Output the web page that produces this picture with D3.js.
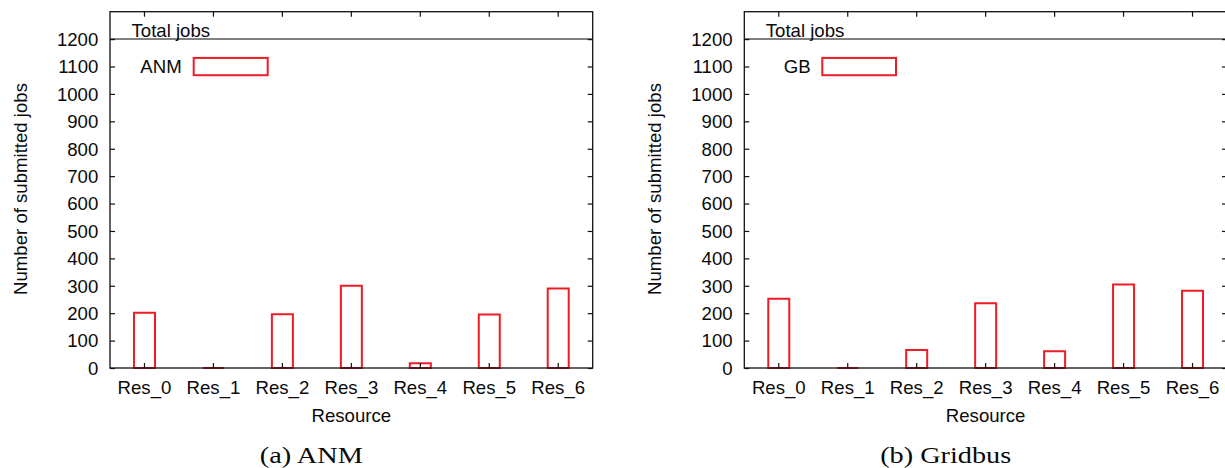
<!DOCTYPE html>
<html>
<head>
<meta charset="utf-8">
<script src="https://cdn.jsdelivr.net/npm/d3@7"></script>
<style>
  html, body { margin: 0; padding: 0; background: #fff; }
  svg { display: block; }
  text { font-family: "Liberation Sans", Arial, Helvetica, sans-serif; fill: #0a0a0a; }
  .caption { font-family: "Liberation Serif", "Times New Roman", serif; }
</style>
</head>
<body>
<svg id="chart" width="1225" height="468"></svg>
<script>
// ---- Data ----
const categories = ["Res_0", "Res_1", "Res_2", "Res_3", "Res_4", "Res_5", "Res_6"];
const anmValues = [202, 0, 196, 300, 17, 195, 290];
const gbValues = [253, 0, 66, 236, 61, 305, 282];
const yTickValues = [0, 100, 200, 300, 400, 500, 600, 700, 800, 900, 1000, 1100, 1200];
const totalJobsLevel = 1200;
const yMax = 1300;

const panels = [
  { values: anmValues, key: "ANM", caption: "(a) ANM", left: 110, keyTextEnd: 71.7, keyBox: [83.7, 157.7], capLen: 103 },
  { values: gbValues, key: "GB", caption: "(b) Gridbus", left: 744.3, keyTextEnd: 66.4, keyBox: [78, 151.7], capLen: 131 }
];

const svg = d3.select("#chart");
const PW = 482.7, PTOP = 11.7, PBOT = 368;
const red = "#ee1c25";
const FS = 18.6;

panels.forEach(p => {
  const g = svg.append("g").attr("transform", `translate(${p.left},0)`);
  const x = d3.scaleBand().domain(categories).range([0, PW]).paddingInner(0).paddingOuter(0);
  const y = d3.scaleLinear().domain([0, yMax]).range([PBOT, PTOP]);
  const bw = 21;

  // total jobs line
  g.append("line")
    .attr("x1", 0).attr("x2", PW)
    .attr("y1", y(totalJobsLevel)).attr("y2", y(totalJobsLevel))
    .attr("stroke", "#808080").attr("stroke-width", 2);

  // bars (as paths so zero-height bars still show)
  g.append("g").selectAll("path")
    .data(p.values.map((v, i) => ({ c: categories[i], v })))
    .join("path")
    .attr("d", d => {
      const cx = x(d.c) + x.bandwidth() / 2;
      const x0 = cx - bw / 2, x1 = cx + bw / 2;
      return `M${x0},${y(0)}V${y(d.v)}H${x1}V${y(0)}Z`;
    })
    .attr("fill", "none").attr("stroke", red).attr("stroke-width", 2);

  // axes
  const bottomAxis = g.append("g").attr("transform", `translate(0,${PBOT})`)
    .call(d3.axisBottom(x).tickSize(-5).tickPadding(13).tickSizeOuter(0));
  const topAxis = g.append("g").attr("transform", `translate(0,${PTOP})`)
    .call(d3.axisTop(x).tickSize(-5).tickFormat("").tickSizeOuter(0));
  const leftAxis = g.append("g")
    .call(d3.axisLeft(y).tickValues(yTickValues).tickFormat(d3.format("d"))
      .tickSize(-5).tickPadding(11.7).tickSizeOuter(0));
  const rightAxis = g.append("g").attr("transform", `translate(${PW},0)`)
    .call(d3.axisRight(y).tickValues(yTickValues).tickSize(-5).tickFormat("").tickSizeOuter(0));

  [bottomAxis, topAxis, leftAxis, rightAxis].forEach(a => {
    a.select(".domain").remove();
    a.selectAll(".tick line").attr("stroke", "#111").attr("stroke-width", 1.2);
    a.selectAll("text").attr("font-size", FS).attr("fill", "#0a0a0a")
      .attr("font-family", "Liberation Sans, Arial, sans-serif");
  });
  leftAxis.selectAll("text").attr("dy", "0.34em");

  // frame
  g.append("rect").attr("x", 0).attr("y", PTOP).attr("width", PW).attr("height", PBOT - PTOP)
    .attr("fill", "none").attr("stroke", "#111").attr("stroke-width", 1.3);

  // key
  g.append("text").attr("x", 21.5).attr("y", 36.5).attr("font-size", FS).text("Total jobs");
  g.append("text").attr("x", p.keyTextEnd).attr("y", y(1100) + 6.5)
    .attr("text-anchor", "end").attr("font-size", FS).text(p.key);
  g.append("rect")
    .attr("x", p.keyBox[0]).attr("y", y(1100) - 8.6)
    .attr("width", p.keyBox[1] - p.keyBox[0]).attr("height", 17.3)
    .attr("fill", "none").attr("stroke", red).attr("stroke-width", 2);

  // axis titles
  g.append("text").attr("x", PW / 2).attr("y", 421.5).attr("text-anchor", "middle")
    .attr("font-size", FS).text("Resource");
  g.append("text").attr("transform", `translate(${26.7 - 110},189) rotate(-90)`)
    .attr("text-anchor", "middle").attr("font-size", FS).text("Number of submitted jobs");

  // caption
  g.append("text").attr("class", "caption")
    .attr("x", PW / 2 - 40 - p.capLen / 2).attr("y", 462.5)
    .attr("font-size", 23)
    .attr("textLength", p.capLen).attr("lengthAdjust", "spacingAndGlyphs")
    .text(p.caption);
});
</script>
</body>
</html>
